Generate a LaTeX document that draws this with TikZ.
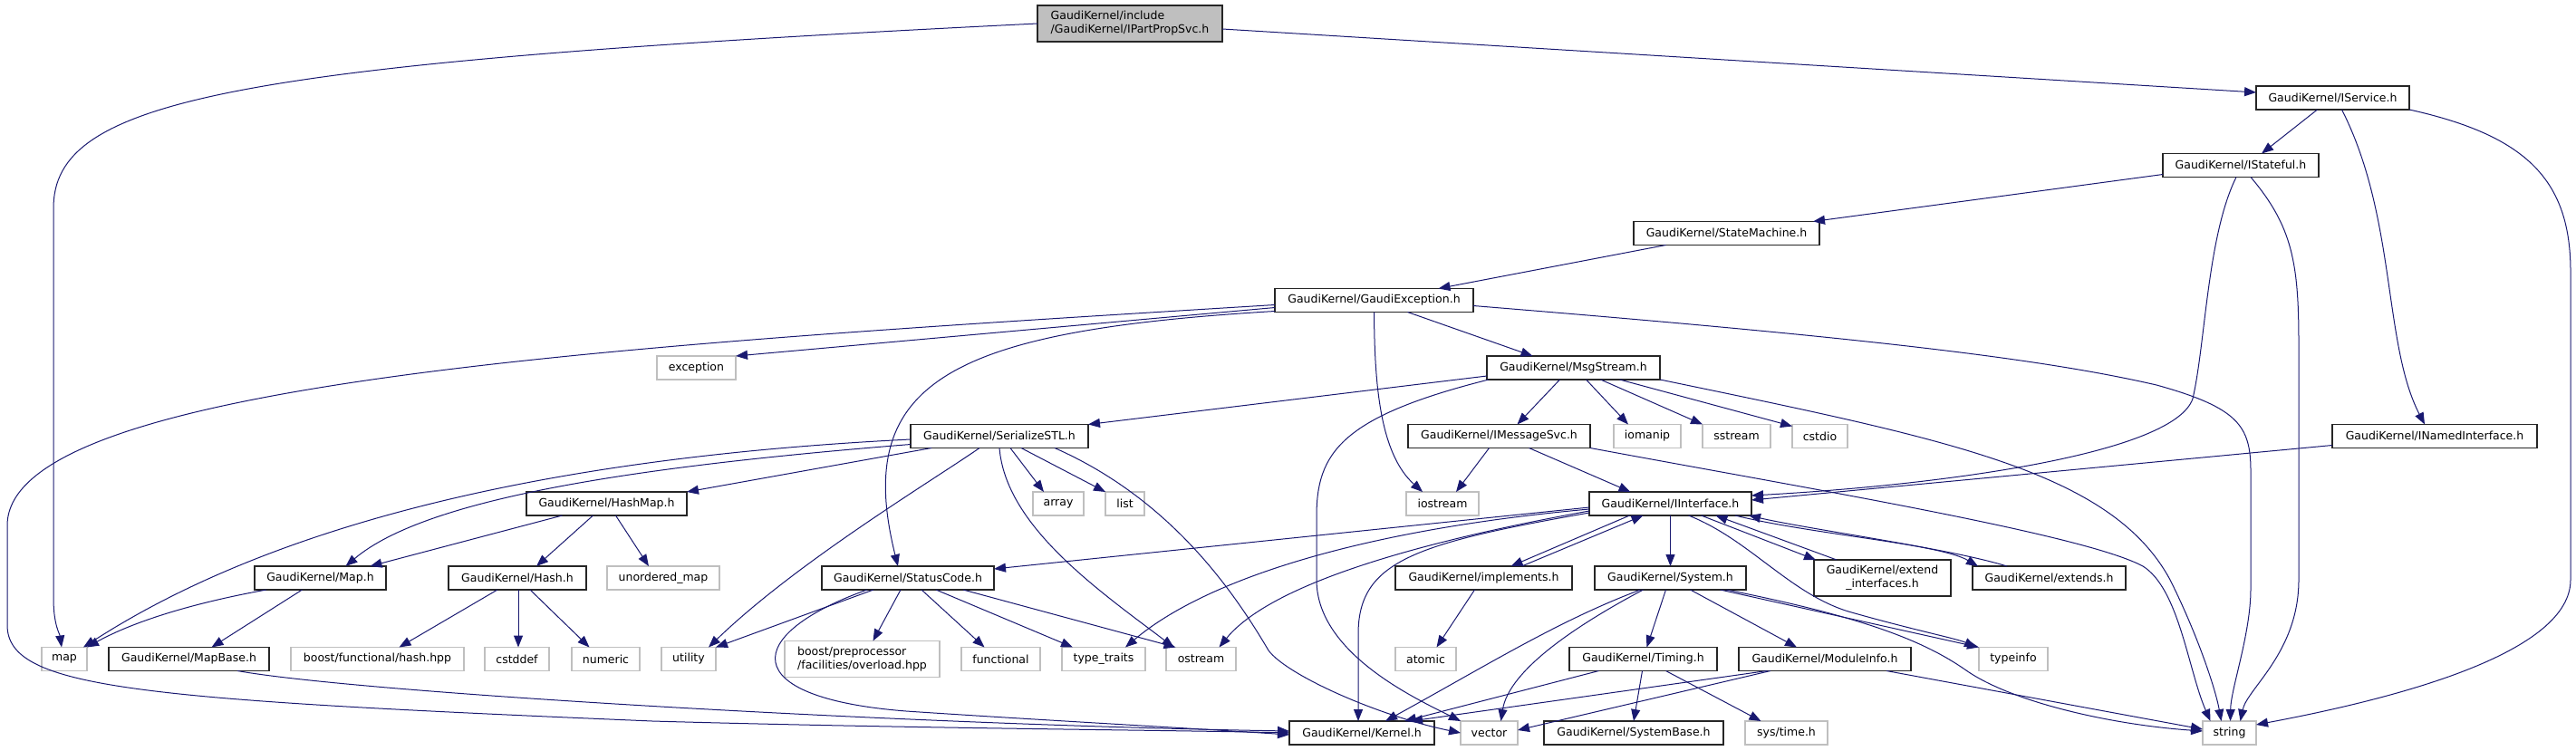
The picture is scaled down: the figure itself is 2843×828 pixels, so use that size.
\documentclass[tikz,border=0pt]{standalone}
\usepackage{fontspec}
\setmainfont{DejaVu Sans}
\usetikzlibrary{arrows.meta,positioning}
\definecolor{edgeblue}{HTML}{191970}
\definecolor{headergray}{HTML}{BFBFBF}

\begin{document}
\begin{tikzpicture}[->,>={Triangle[length=13pt,width=10pt]},x=1pt,y=-1pt,
    font=\fontsize{12.5}{15}\selectfont,
    file node/.style={draw=black!85,line width=1.1pt,fill=white,minimum height=26pt,
                      inner xsep=2pt,inner ysep=1pt,outer sep=0pt},
    sys node/.style={file node,draw=headergray},
    root node/.style={file node,fill=headergray,minimum height=40pt,align=left},
    dep/.style={draw=edgeblue,line width=1pt},
    every edge/.style={dep}]

    \useasboundingbox (0,0) rectangle (2843,828);

    % Define vertices
    \node[root node,minimum width=204pt] (partprop) at (1247,26) {GaudiKernel/include\\/GaudiKernel/IPartPropSvc.h};
    \node[file node,minimum width=169pt] (iservice) at (2574.5,108) {GaudiKernel/IService.h};
    \node[file node,minimum width=172pt] (istateful) at (2473,182.5) {GaudiKernel/IStateful.h};
    \node[file node,minimum width=205pt] (statemachine) at (1905.5,257.5) {GaudiKernel/StateMachine.h};
    \node[file node,minimum width=219pt] (gaudiexc) at (1516.5,331.5) {GaudiKernel/GaudiException.h};
    \node[sys node,minimum width=87pt] (exception) at (768.5,406) {exception};
    \node[file node,minimum width=191pt] (msgstream) at (1736.5,406) {GaudiKernel/MsgStream.h};
    \node[file node,minimum width=196pt] (serialize) at (1103,481.5) {GaudiKernel/SerializeSTL.h};
    \node[file node,minimum width=201pt] (imsgsvc) at (1654.5,481.5) {GaudiKernel/IMessageSvc.h};
    \node[sys node,minimum width=74pt,right=26pt of imsgsvc] (iomanip) {iomanip};
    \node[sys node,minimum width=75pt,right=24pt of iomanip] (sstream) {sstream};
    \node[sys node,minimum width=61pt,right=24pt of sstream] (cstdio) {cstdio};
    \node[file node,minimum width=226pt] (inamed) at (2687,481.5) {GaudiKernel/INamedInterface.h};
    \node[file node,minimum width=177pt] (hashmap) at (669.5,556) {GaudiKernel/HashMap.h};
    \node[sys node,minimum width=56pt] (array) at (1168,556) {array};
    \node[sys node,minimum width=43pt,right=24pt of array] (list) {list};
    \node[sys node,minimum width=80pt] (iostream) at (1592,556) {iostream};
    \node[file node,minimum width=179pt] (iinterface) at (1843.5,556) {GaudiKernel/IInterface.h};
    \node[file node,minimum width=145pt] (maph) at (353.5,638) {GaudiKernel/Map.h};
    \node[file node,minimum width=152pt] (hash) at (571,638) {GaudiKernel/Hash.h};
    \node[sys node,minimum width=124pt,right=23pt of hash] (unordmap) {unordered\_map};
    \node[file node,minimum width=190pt] (statuscode) at (1002,638) {GaudiKernel/StatusCode.h};
    \node[file node,minimum width=195pt] (implements) at (1637.5,638) {GaudiKernel/implements.h};
    \node[file node,minimum width=167pt,right=25pt of implements] (system) {GaudiKernel/System.h};
    \node[file node,minimum width=151pt,minimum height=40pt,align=center,right=75pt of system] (extendif) {GaudiKernel/extend\\\_interfaces.h};
    \node[file node,minimum width=169pt,right=24pt of extendif] (extends) {GaudiKernel/extends.h};
    \node[sys node,minimum width=50pt] (map) at (71,727.5) {map};
    \node[file node,minimum width=177pt,right=24pt of map] (mapbase) {GaudiKernel/MapBase.h};
    \node[sys node,minimum width=191pt,right=24pt of mapbase] (boosthash) {boost/functional/hash.hpp};
    \node[sys node,minimum width=71pt,right=23pt of boosthash] (cstddef) {cstddef};
    \node[sys node,minimum width=75pt,right=25pt of cstddef] (numeric) {numeric};
    \node[sys node,minimum width=60pt,right=24pt of numeric] (utility) {utility};
    \node[sys node,minimum width=171pt,minimum height=40pt,align=left,right=76pt of utility] (boostpp) {boost/preprocessor\\/facilities/overload.hpp};
    \node[sys node,minimum width=87pt,right=24pt of boostpp] (functional) {functional};
    \node[sys node,minimum width=92pt,right=24pt of functional] (typetraits) {type\_traits};
    \node[sys node,minimum width=77pt,right=23pt of typetraits] (ostream) {ostream};
    \node[sys node,minimum width=67pt] (atomic) at (1573.5,727.5) {atomic};
    \node[file node,minimum width=163pt] (timing) at (1813.5,727.5) {GaudiKernel/Timing.h};
    \node[file node,minimum width=190pt,right=24pt of timing] (moduleinfo) {GaudiKernel/ModuleInfo.h};
    \node[sys node,minimum width=76pt,right=75pt of moduleinfo] (typeinfo) {typeinfo};
    \node[file node,minimum width=160pt] (kernel) at (1503,809) {GaudiKernel/Kernel.h};
    \node[sys node,minimum width=63pt,right=29pt of kernel] (vector) {vector};
    \node[file node,minimum width=198pt,right=29pt of vector] (systembase) {GaudiKernel/SystemBase.h};
    \node[sys node,minimum width=91pt,right=24pt of systembase] (systime) {sys/time.h};
    \node[sys node,minimum width=59pt] (string) at (2460.5,809) {string};

    % Draw edges
    \path
        ([yshift=-6]partprop.east) edge ([yshift=6]iservice.west)
        ([xshift=-17]iservice.south) edge ([xshift=23]istateful.north)
        ([yshift=-10]istateful.west) edge ([xshift=-7]statemachine.north east)
        ([xshift=-67]statemachine.south) edge ([xshift=71]gaudiexc.north)
        ([yshift=-8]gaudiexc.west) edge (exception.north east)
        ([xshift=37]gaudiexc.south) edge ([xshift=-45]msgstream.north)
        ([yshift=4]msgstream.south west) edge (serialize.north east)
        ([xshift=-15]msgstream.south) edge ([xshift=20]imsgsvc.north)
        ([xshift=14]msgstream.south) edge ([xshift=-21]iomanip.north)
        ([xshift=30]msgstream.south) edge (sstream.north west)
        ([xshift=51]msgstream.south) edge ([yshift=-2]cstdio.north west)
        ([xshift=-11]imsgsvc.south) edge ([xshift=15]iostream.north)
        ([xshift=33]imsgsvc.south) edge ([xshift=-44]iinterface.north)
        ([xshift=-75]serialize.south) edge (hashmap.north east)
        ([xshift=12]serialize.south) edge ([xshift=-16]array.north)
        ([xshift=24]serialize.south) edge (list.north west)
        ([xshift=-49]hashmap.south) edge ([xshift=55]maph.north)
        ([xshift=-15]hashmap.south) edge ([xshift=21]hash.north)
        ([xshift=10]hashmap.south) edge ([xshift=-16]unordmap.north)
        ([xshift=-20]maph.south) edge ([xshift=25]mapbase.north)
        ([xshift=-22]hash.south) edge ([xshift=24]boosthash.north)
        ([xshift=1]hash.south) edge ([xshift=1.5]cstddef.north)
        ([xshift=14]hash.south) edge ([xshift=-18]numeric.north)
        ([xshift=-38]statuscode.south) edge (utility.north east)
        ([xshift=-8]statuscode.south) edge ([xshift=12]boostpp.north)
        ([xshift=15]statuscode.south) edge ([xshift=-18]functional.north)
        ([xshift=31]statuscode.south) edge ([xshift=-34]typetraits.north)
        ([xshift=61]statuscode.south) edge ([xshift=-28]ostream.north)
        ([yshift=-10]inamed.west) edge ([yshift=4]iinterface.east)
        ([yshift=-4]iinterface.west) edge ([yshift=10]statuscode.east)
        ([xshift=-45]iinterface.south) edge ([xshift=30]implements.north)
        ([xshift=42]implements.north) edge ([xshift=-30]iinterface.south)
        (iinterface.south) edge (system.north)
        ([xshift=34]iinterface.south) edge ([xshift=2]extendif.north west)
        ([xshift=25]extendif.north west) edge ([xshift=50]iinterface.south)
        ([xshift=-10]implements.south) edge ([xshift=12]atomic.north)
        ([xshift=-5]system.south) edge ([xshift=4]timing.north)
        ([xshift=22]system.south) edge ([xshift=-31]moduleinfo.north)
        ([xshift=55]system.south) edge (typeinfo.north west)
        ([xshift=-49]timing.south) edge ([xshift=47]kernel.north)
        ([xshift=-1]timing.south) edge (systembase.north)
        ([xshift=25]timing.south) edge ([xshift=-28]systime.north)
        ([xshift=-64]moduleinfo.south) edge ([xshift=-26]kernel.north east)
        ([xshift=-60]moduleinfo.south) edge ([yshift=3]vector.east)
        ([xshift=68]moduleinfo.south) edge ([yshift=4]string.west);

    % curved edges
    \draw[dep] (partprop.west) .. controls (250,70) and (59,110) .. (59,230) -- (59,660)
        .. controls (59,690) and (66,700) .. ([xshift=-3]map.north);
    \draw[dep] ([xshift=10]iservice.south) .. controls (2645,240) and (2630,380) .. ([xshift=-11]inamed.north);
    \draw[dep] (iservice.south east) .. controls (2790,150) and (2837,200) .. (2837,300) -- (2837,640)
        .. controls (2837,720) and (2650,770) .. ([yshift=-4]string.north east);
    \draw[dep] ([xshift=-5]istateful.south) .. controls (2436,260) and (2434,380) .. (2420,440)
        .. controls (2400,500) and (2150,535) .. ([yshift=9]iinterface.east);
    \draw[dep] ([xshift=11]istateful.south) .. controls (2530,250) and (2537,290) .. (2537,380) -- (2537,640)
        .. controls (2537,720) and (2480,760) .. ([xshift=12]string.north);
    \draw[dep] ([yshift=-5]gaudiexc.west) .. controls (700,380) and (8,420) .. (8,580) -- (8,690)
        .. controls (8,760) and (150,772) .. (720,796) .. controls (1000,804) and (1300,806) .. (kernel.west);
    \draw[dep] ([yshift=-12]gaudiexc.west) .. controls (1050,365) and (940,420) .. ([xshift=-11]statuscode.north);
    \draw[dep] (gaudiexc.south) .. controls (1517,420) and (1522,500) .. ([xshift=-22]iostream.north);
    \draw[dep] ([yshift=-6]gaudiexc.east) .. controls (2050,372) and (2250,395) .. (2380,425)
        .. controls (2470,450) and (2484,470) .. (2484,520) -- (2484,650)
        .. controls (2484,700) and (2462,760) .. ([xshift=1]string.north);
    \draw[dep] ([xshift=2]msgstream.south west) .. controls (1480,460) and (1453,500) .. (1453,570) -- (1453,640)
        .. controls (1453,720) and (1560,770) .. (vector.north west);
    \draw[dep] (msgstream.south east) .. controls (2150,485) and (2330,520) .. (2395,640)
        .. controls (2425,700) and (2445,760) .. ([xshift=-9]string.north);
    \draw[dep] (imsgsvc.south east) .. controls (2000,540) and (2300,590) .. (2365,625)
        .. controls (2405,650) and (2415,740) .. ([xshift=-21]string.north);
    \draw[dep] ([yshift=-3.5]serialize.west) .. controls (600,505) and (300,580) .. ([xshift=-4]map.north east);
    \draw[dep] ([yshift=-9]serialize.west) .. controls (700,515) and (470,550) .. ([xshift=28]maph.north);
    \draw[dep] ([xshift=-22]serialize.south) .. controls (1030,530) and (880,620) .. ([xshift=-8]utility.north east);
    \draw[dep] (serialize.south) .. controls (1110,580) and (1210,650) .. ([xshift=-30]ostream.north);
    \draw[dep] ([xshift=61]serialize.south) .. controls (1290,550) and (1360,650) .. (1400,718)
        .. controls (1420,745) and (1520,790) .. (vector.west);
    \draw[dep] ([xshift=13]maph.south west) .. controls (200,668) and (140,690) .. (map.north east);
    \draw[dep] ([xshift=-35]mapbase.south east) .. controls (400,765) and (1000,800) .. ([yshift=2]kernel.west);
    \draw[dep] ([xshift=-45]statuscode.south) .. controls (820,700) and (810,770) .. (1000,785)
        .. controls (1150,795) and (1300,803) .. ([yshift=-2]kernel.west);
    \draw[dep] ([yshift=-6]iinterface.west) .. controls (1500,585) and (1330,640) .. ([xshift=24]typetraits.north);
    \draw[dep] ([yshift=-8]iinterface.west) .. controls (1500,610) and (1390,660) .. ([xshift=20]ostream.north);
    \draw[dep] ([yshift=-10]iinterface.west) .. controls (1560,600) and (1499,620) .. (1499,700) -- ([xshift=-4]kernel.north);
    \draw[dep] ([xshift=20]iinterface.south) .. controls (1930,595) and (1975,655) .. (2040,675)
        .. controls (2110,695) and (2160,705) .. ([xshift=-3]typeinfo.north west);
    \draw[dep] ([xshift=-18]iinterface.south east) .. controls (2000,590) and (2140,600) .. ([xshift=6]extends.north west);
    \draw[dep] ([xshift=38]extends.north west) .. controls (2150,605) and (2000,585) .. ([xshift=-3]iinterface.south east);
    \draw[dep] ([xshift=62]system.south) .. controls (2050,680) and (2120,705) .. (2170,740)
        .. controls (2220,775) and (2330,800) .. ([yshift=2]string.west);
    \draw[dep] ([xshift=-33]system.south) .. controls (1720,685) and (1640,735) .. ([xshift=26]kernel.north);
    \draw[dep] ([xshift=-30]system.south) .. controls (1740,690) and (1665,740) .. ([xshift=13]vector.north);

\end{tikzpicture}
\end{document}
